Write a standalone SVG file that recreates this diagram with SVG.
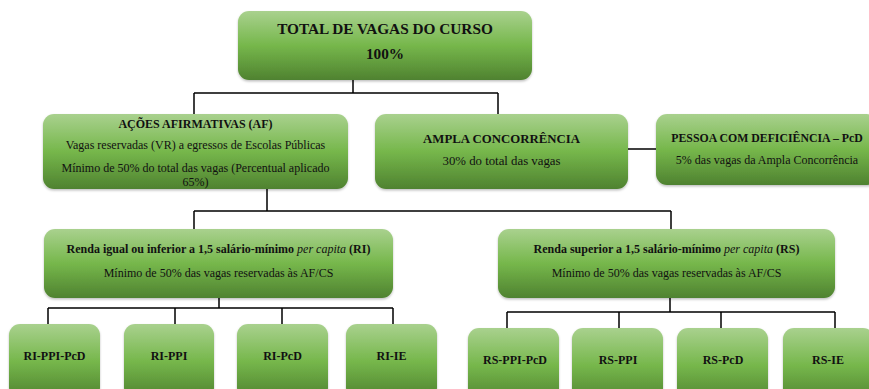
<svg xmlns="http://www.w3.org/2000/svg" width="869" height="389" viewBox="0 0 869 389">
<defs>
<linearGradient id="g" x1="0" y1="0" x2="0" y2="1">
<stop offset="0" stop-color="#a9d18e"/>
<stop offset="0.5" stop-color="#76b74b"/>
<stop offset="1" stop-color="#4f8230"/>
</linearGradient>
<filter id="sh" x="-5%" y="-5%" width="110%" height="120%">
<feDropShadow dx="0" dy="1.5" stdDeviation="1.2" flood-color="#000" flood-opacity="0.25"/>
</filter>
</defs>
<style>
.box{fill:url(#g);filter:url(#sh)}
text{font-family:"Liberation Serif","DejaVu Serif",serif;fill:#111;text-anchor:middle}
.b{font-weight:bold}
.t{font-size:15.3px}
.h{font-size:12px}
.r{font-size:12px}
.s{font-size:12px;font-weight:bold}
#connectors path{fill:none;stroke:#000;stroke-width:1.5}
</style>
<g id="connectors">
<path d="M353,80 V93 M194,93 H498 M194,93 V114 M498,93 V114"/>
<path d="M628,149 H656"/>
<path d="M267,189 V211 M194,211 H671 M194,211 V229 M671,211 V229"/>
<path d="M219,298 V308 M48,308 H393 M48,308 V324 M175,308 V324 M282,308 V324 M393,308 V324"/>
<path d="M670,298 V312 M507,312 H835 M507,312 V328 M619,312 V328 M721,312 V328 M835,312 V328"/>
</g>
<g id="total">
<rect class="box" x="238" y="11" width="294" height="69" rx="11"/>
<text class="b t" x="385" y="34">TOTAL DE VAGAS DO CURSO</text>
<text class="b t" x="385" y="59">100%</text>
</g>
<g id="af">
<rect class="box" x="43" y="114" width="305" height="75" rx="11"/>
<text class="b h" x="195.5" y="128">AÇÕES AFIRMATIVAS (AF)</text>
<text class="r" x="195.5" y="149">Vagas reservadas (VR) a egressos de Escolas Públicas</text>
<text class="r" x="195.5" y="171.5">Mínimo de 50% do total das vagas (Percentual aplicado</text>
<text class="r" x="195.5" y="185.5">65%)</text>
</g>
<g id="ac">
<rect class="box" x="375" y="114" width="253" height="75" rx="11"/>
<text class="b" font-size="12.8" x="501.5" y="143">AMPLA CONCORRÊNCIA</text>
<text font-size="12.8" x="501.5" y="165">30% do total das vagas</text>
</g>
<g id="pcd">
<rect class="box" x="656" y="114" width="222" height="71" rx="11"/>
<text class="b" font-size="11.8" x="767" y="142">PESSOA COM DEFICIÊNCIA – PcD</text>
<text class="r" x="767" y="164">5% das vagas da Ampla Concorrência</text>
</g>
<g id="ri">
<rect class="box" x="44" y="229" width="349" height="69" rx="11"/>
<text class="b r" x="218.5" y="253">Renda igual ou inferior a 1,5 salário-mínimo <tspan font-style="italic" font-weight="normal">per capita</tspan> (RI)</text>
<text class="r" x="218.5" y="277">Mínimo de 50% das vagas reservadas às AF/CS</text>
</g>
<g id="rs">
<rect class="box" x="498" y="229" width="337" height="69" rx="11"/>
<text class="b r" x="666.5" y="253">Renda superior a 1,5 salário-mínimo <tspan font-style="italic" font-weight="normal">per capita</tspan> (RS)</text>
<text class="r" x="666.5" y="277">Mínimo de 50% das vagas reservadas às AF/CS</text>
</g>
<g id="ri-ppi-pcd">
<rect class="box" x="9" y="324" width="91" height="75" rx="11"/>
<text class="s" x="54.5" y="360">RI-PPI-PcD</text>
</g>
<g id="ri-ppi">
<rect class="box" x="124" y="324" width="90" height="75" rx="11"/>
<text class="s" x="169" y="360">RI-PPI</text>
</g>
<g id="ri-pcd">
<rect class="box" x="237" y="324" width="91" height="75" rx="11"/>
<text class="s" x="282.5" y="360">RI-PcD</text>
</g>
<g id="ri-ie">
<rect class="box" x="346" y="324" width="91" height="75" rx="11"/>
<text class="s" x="391.5" y="360">RI-IE</text>
</g>
<g id="rs-ppi-pcd">
<rect class="box" x="468" y="328" width="91" height="75" rx="11"/>
<text class="s" x="515" y="364">RS-PPI-PcD</text>
</g>
<g id="rs-ppi">
<rect class="box" x="572" y="328" width="91" height="75" rx="11"/>
<text class="s" x="618" y="364">RS-PPI</text>
</g>
<g id="rs-pcd">
<rect class="box" x="677" y="328" width="91" height="75" rx="11"/>
<text class="s" x="723" y="364">RS-PcD</text>
</g>
<g id="rs-ie">
<rect class="box" x="783" y="328" width="91" height="75" rx="11"/>
<text class="s" x="828" y="364">RS-IE</text>
</g>
</svg>
